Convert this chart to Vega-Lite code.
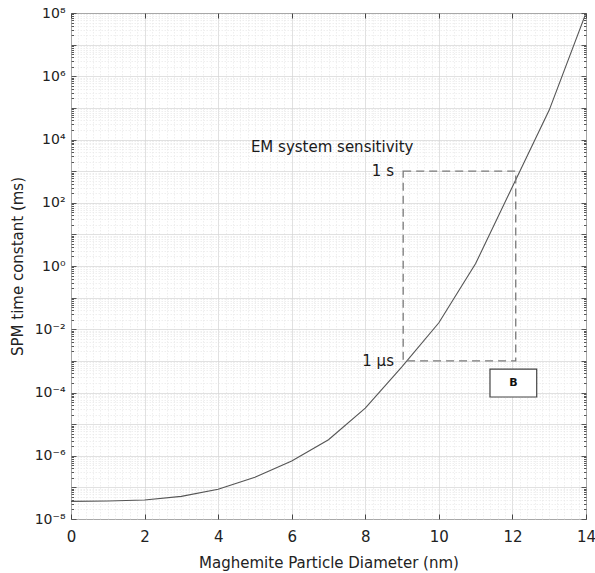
{
  "$schema": "https://vega.github.io/schema/vega-lite/v6.json",
  "width": 515,
  "height": 506,
  "autosize": "none",
  "padding": {"left": 71, "top": 13, "right": 9, "bottom": 54},
  "background": "white",
  "config": {
    "font": "DejaVu Sans",
    "view": {"stroke": "#444444", "strokeWidth": 1},
    "axis": {"labelFont": "DejaVu Sans", "titleFont": "DejaVu Sans", "labelColor": "#222222", "titleColor": "#222222"}
  },
  "datasets": {
    "relaxation": [
      {"diameter": 0, "tau": 3.6e-8},
      {"diameter": 1, "tau": 3.7e-8},
      {"diameter": 2, "tau": 4.0e-8},
      {"diameter": 3, "tau": 5.2e-8},
      {"diameter": 4, "tau": 8.7e-8},
      {"diameter": 5, "tau": 2.1e-7},
      {"diameter": 6, "tau": 6.8e-7},
      {"diameter": 7, "tau": 3.2e-6},
      {"diameter": 8, "tau": 3.2e-5},
      {"diameter": 9, "tau": 6.6e-4},
      {"diameter": 10, "tau": 1.6e-2},
      {"diameter": 11, "tau": 1.2},
      {"diameter": 12, "tau": 3.2e2},
      {"diameter": 13, "tau": 8.5e4},
      {"diameter": 14, "tau": 1.0e8}
    ],
    "anchor": [{}]
  },
  "layer": [
    {
      "data": {"name": "relaxation"},
      "mark": {"type": "line", "color": "#555555", "strokeWidth": 1.1, "clip": true},
      "encoding": {
        "x": {
          "field": "diameter",
          "type": "quantitative",
          "scale": {"domain": [0, 14], "nice": false, "zero": false},
          "axis": {
            "orient": "bottom",
            "title": "Maghemite Particle Diameter (nm)",
            "titleFontSize": 15,
            "titleFontWeight": "normal",
            "titlePadding": 11,
            "labelFontSize": 15,
            "labelPadding": 15,
            "labelFlush": false,
            "labelOverlap": false,
            "domain": false,
            "values": [0, 2, 4, 6, 8, 10, 12, 14],
            "labelExpr": "'' + round(datum.value)",
            "grid": true,
            "gridColor": "#d4d4d4",
            "gridWidth": 0.7,
            "ticks": true,
            "tickColor": "#444444",
            "tickSize": -5
          }
        },
        "y": {
          "field": "tau",
          "type": "quantitative",
          "scale": {"type": "log", "domain": [1e-8, 1e8], "nice": false},
          "axis": {
            "orient": "left",
            "title": "SPM time constant (ms)",
            "titleFontSize": 15,
            "titleFontWeight": "normal",
            "titlePadding": 9,
            "labelFontSize": 14,
            "labelPadding": 11,
            "labelFlush": false,
            "labelOverlap": false,
            "domain": false,
            "values": [1e-8, 2e-8, 3e-8, 4e-8, 5e-8, 6e-8, 7e-8, 8e-8, 9e-8, 1e-7, 2e-7, 3e-7, 4e-7, 5e-7, 6e-7, 7e-7, 8e-7, 9e-7, 1e-6, 2e-6, 3e-6, 4e-6, 5e-6, 6e-6, 7e-6, 8e-6, 9e-6, 1e-5, 2e-5, 3e-5, 4e-5, 5e-5, 6e-5, 7e-5, 8e-5, 9e-5, 1e-4, 2e-4, 3e-4, 4e-4, 5e-4, 6e-4, 7e-4, 8e-4, 9e-4, 1e-3, 2e-3, 3e-3, 4e-3, 5e-3, 6e-3, 7e-3, 8e-3, 9e-3, 1e-2, 2e-2, 3e-2, 4e-2, 5e-2, 6e-2, 7e-2, 8e-2, 9e-2, 0.1, 0.2, 0.3, 0.4, 0.5, 0.6, 0.7, 0.8, 0.9, 1, 2, 3, 4, 5, 6, 7, 8, 9, 10, 20, 30, 40, 50, 60, 70, 80, 90, 100, 200, 300, 400, 500, 600, 700, 800, 900, 1e3, 2e3, 3e3, 4e3, 5e3, 6e3, 7e3, 8e3, 9e3, 1e4, 2e4, 3e4, 4e4, 5e4, 6e4, 7e4, 8e4, 9e4, 1e5, 2e5, 3e5, 4e5, 5e5, 6e5, 7e5, 8e5, 9e5, 1e6, 2e6, 3e6, 4e6, 5e6, 6e6, 7e6, 8e6, 9e6, 1e7, 2e7, 3e7, 4e7, 5e7, 6e7, 7e7, 8e7, 9e7, 1e8],
            "labelExpr": "abs(log(datum.value) / LN10 - round(log(datum.value) / LN10)) > 0.001 ? '' : round(log(datum.value) / LN10) == 8 ? '10⁸' : round(log(datum.value) / LN10) == 6 ? '10⁶' : round(log(datum.value) / LN10) == 4 ? '10⁴' : round(log(datum.value) / LN10) == 2 ? '10²' : round(log(datum.value) / LN10) == 0 ? '10⁰' : round(log(datum.value) / LN10) == -2 ? '10⁻²' : round(log(datum.value) / LN10) == -4 ? '10⁻⁴' : round(log(datum.value) / LN10) == -6 ? '10⁻⁶' : round(log(datum.value) / LN10) == -8 ? '10⁻⁸' : ''",
            "grid": true,
            "gridColor": {"condition": {"test": "abs(log(datum.value) / LN10 - round(log(datum.value) / LN10)) < 0.001", "value": "#d4d4d4"}, "value": "#e8e8e8"},
            "gridDash": {"condition": {"test": "abs(log(datum.value) / LN10 - round(log(datum.value) / LN10)) < 0.001", "value": []}, "value": [1.5, 1.5]},
            "gridWidth": 0.7,
            "ticks": true,
            "tickColor": "#555555",
            "tickSize": {"condition": {"test": "abs(log(datum.value) / LN10 - round(log(datum.value) / LN10)) < 0.001", "value": -5}, "value": -2.5}
          }
        }
      }
    },
    {
      "data": {"name": "relaxation"},
      "mark": {"type": "line", "opacity": 0},
      "encoding": {
        "x": {
          "field": "diameter",
          "type": "quantitative",
          "axis": {
            "orient": "top", "title": null, "labels": false, "domain": false,
            "values": [0, 0.2, 0.4, 0.6, 0.8, 1, 1.2, 1.4, 1.6, 1.8, 2, 2.2, 2.4, 2.6, 2.8, 3, 3.2, 3.4, 3.6, 3.8, 4, 4.2, 4.4, 4.6, 4.8, 5, 5.2, 5.4, 5.6, 5.8, 6, 6.2, 6.4, 6.6, 6.8, 7, 7.2, 7.4, 7.6, 7.8, 8, 8.2, 8.4, 8.6, 8.8, 9, 9.2, 9.4, 9.6, 9.8, 10, 10.2, 10.4, 10.6, 10.8, 11, 11.2, 11.4, 11.6, 11.8, 12, 12.2, 12.4, 12.6, 12.8, 13, 13.2, 13.4, 13.6, 13.8, 14],
            "grid": true,
            "gridColor": "#e8e8e8",
            "gridDash": [1.5, 1.5],
            "gridWidth": 0.7,
            "gridOpacity": {"condition": {"test": "abs(datum.value / 2 - round(datum.value / 2)) < 0.001", "value": 0}, "value": 1},
            "tickColor": "#444444",
            "tickSize": {"condition": {"test": "abs(datum.value / 2 - round(datum.value / 2)) < 0.001", "value": -5}, "value": 0}
          }
        },
        "y": {
          "field": "tau",
          "type": "quantitative",
          "axis": {
            "orient": "right", "title": null, "labels": false, "grid": false, "domain": false,
            "values": [1e-8, 2e-8, 3e-8, 4e-8, 5e-8, 6e-8, 7e-8, 8e-8, 9e-8, 1e-7, 2e-7, 3e-7, 4e-7, 5e-7, 6e-7, 7e-7, 8e-7, 9e-7, 1e-6, 2e-6, 3e-6, 4e-6, 5e-6, 6e-6, 7e-6, 8e-6, 9e-6, 1e-5, 2e-5, 3e-5, 4e-5, 5e-5, 6e-5, 7e-5, 8e-5, 9e-5, 1e-4, 2e-4, 3e-4, 4e-4, 5e-4, 6e-4, 7e-4, 8e-4, 9e-4, 1e-3, 2e-3, 3e-3, 4e-3, 5e-3, 6e-3, 7e-3, 8e-3, 9e-3, 1e-2, 2e-2, 3e-2, 4e-2, 5e-2, 6e-2, 7e-2, 8e-2, 9e-2, 0.1, 0.2, 0.3, 0.4, 0.5, 0.6, 0.7, 0.8, 0.9, 1, 2, 3, 4, 5, 6, 7, 8, 9, 10, 20, 30, 40, 50, 60, 70, 80, 90, 100, 200, 300, 400, 500, 600, 700, 800, 900, 1e3, 2e3, 3e3, 4e3, 5e3, 6e3, 7e3, 8e3, 9e3, 1e4, 2e4, 3e4, 4e4, 5e4, 6e4, 7e4, 8e4, 9e4, 1e5, 2e5, 3e5, 4e5, 5e5, 6e5, 7e5, 8e5, 9e5, 1e6, 2e6, 3e6, 4e6, 5e6, 6e6, 7e6, 8e6, 9e6, 1e7, 2e7, 3e7, 4e7, 5e7, 6e7, 7e7, 8e7, 9e7, 1e8],
            "tickColor": "#555555",
            "tickSize": {"condition": {"test": "abs(log(datum.value) / LN10 - round(log(datum.value) / LN10)) < 0.001", "value": -5}, "value": -2.5}
          }
        }
      }
    },
    {
      "data": {"name": "anchor"},
      "mark": {"type": "rect", "fill": null, "stroke": "#7a7a7a", "strokeWidth": 1.3, "strokeDash": [8, 5]},
      "encoding": {
        "x": {"datum": 9.03, "type": "quantitative", "axis": null},
        "x2": {"datum": 12.09},
        "y": {"datum": 0.001, "type": "quantitative", "axis": null},
        "y2": {"datum": 1000}
      }
    },
    {
      "data": {"name": "anchor"},
      "mark": {"type": "rect", "fill": "white", "stroke": "#444444", "strokeWidth": 1.2},
      "encoding": {
        "x": {"datum": 11.39, "type": "quantitative", "axis": null},
        "x2": {"datum": 12.66},
        "y": {"datum": 0.00055, "type": "quantitative", "axis": null},
        "y2": {"datum": 0.000072}
      }
    },
    {
      "data": {"name": "anchor"},
      "mark": {"type": "text", "text": "B", "fontWeight": "bold", "fontSize": 11, "color": "#111111", "align": "center", "baseline": "middle"},
      "encoding": {
        "x": {"datum": 12.03, "type": "quantitative", "axis": null},
        "y": {"datum": 0.0002, "type": "quantitative", "axis": null}
      }
    },
    {
      "data": {"name": "anchor"},
      "mark": {"type": "text", "text": "EM system sensitivity", "fontSize": 15, "color": "#1a1a1a", "align": "center", "baseline": "middle"},
      "encoding": {
        "x": {"datum": 7.1, "type": "quantitative", "axis": null},
        "y": {"datum": 5700, "type": "quantitative", "axis": null}
      }
    },
    {
      "data": {"name": "anchor"},
      "mark": {"type": "text", "text": "1 s", "fontSize": 15, "color": "#1a1a1a", "align": "right", "baseline": "middle"},
      "encoding": {
        "x": {"datum": 8.78, "type": "quantitative", "axis": null},
        "y": {"datum": 1000, "type": "quantitative", "axis": null}
      }
    },
    {
      "data": {"name": "anchor"},
      "mark": {"type": "text", "text": "1 μs", "fontSize": 15, "color": "#1a1a1a", "align": "right", "baseline": "middle"},
      "encoding": {
        "x": {"datum": 8.78, "type": "quantitative", "axis": null},
        "y": {"datum": 0.001, "type": "quantitative", "axis": null}
      }
    }
  ],
  "resolve": {"axis": {"x": "independent", "y": "independent"}}
}
